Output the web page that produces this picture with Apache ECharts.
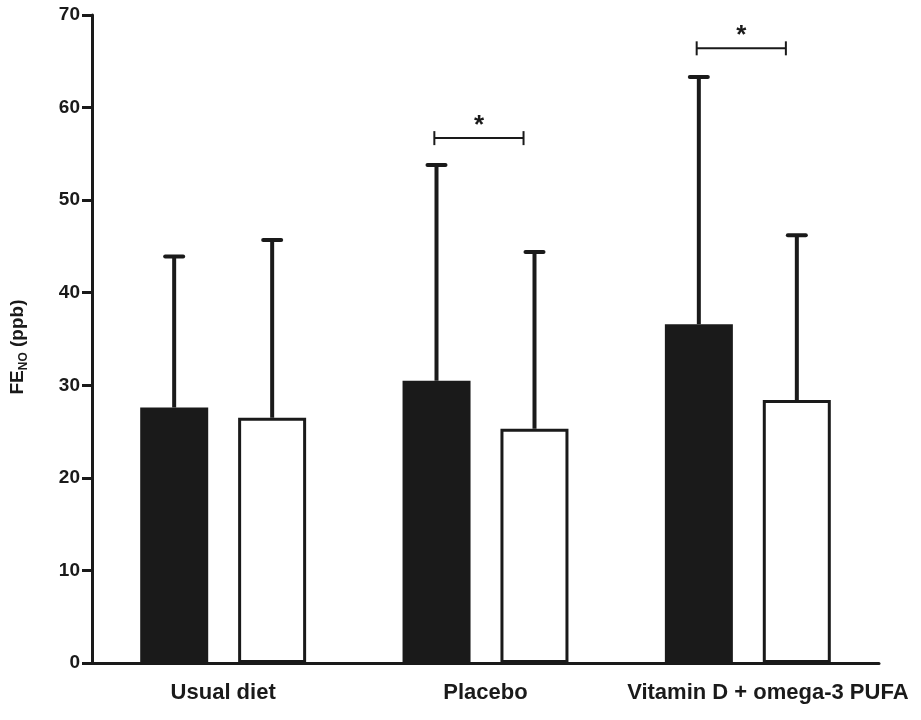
<!DOCTYPE html>
<html>
<head>
<meta charset="utf-8">
<script src="https://cdn.jsdelivr.net/npm/echarts@6/dist/echarts.min.js"></script>
<style>
  html, body { margin: 0; padding: 0; background: #fff; }
  #chart { width: 921px; height: 720px; }
</style>
</head>
<body>
<div id="chart"></div>
<script>
// data
const categories = ['Usual diet', 'Placebo', 'Vitamin D + omega-3 PUFA']
const beforeMean = [27.6, 30.5, 36.6]   // black bars
const beforeUpper = [43.9, 53.8, 63.3]
const afterMean = [26.5, 25.3, 28.4]    // white bars
const afterUpper = [45.7, 44.4, 46.2]
// significance brackets: [category index, level]
const sigBrackets = [[1, 56.7], [2, 66.4]]

const ink = '#1a1a1a'
const BAR_W = 68
const HALF_STEP = 49   // distance from category centre to bar centre

const chart = echarts.init(document.getElementById('chart'))

// error whisker from bar top up to upper value, with a cap
const whisker = (side) => (params, api) => {
  const top = api.coord([api.value(0), api.value(2)])
  const base = api.coord([api.value(0), api.value(1)])
  const x = top[0] + side * HALF_STEP
  return {
    type: 'group',
    children: [
      { type: 'line', shape: { x1: x, y1: base[1], x2: x, y2: top[1] },
        style: { stroke: ink, lineWidth: 4 } },
      { type: 'line', shape: { x1: x - 9, y1: top[1], x2: x + 9, y2: top[1] },
        style: { stroke: ink, lineWidth: 4, lineCap: 'round' } }
    ]
  }
}

const option = {
  animation: false,
  grid: { left: 92, right: 42, top: 15, bottom: 57 },
  xAxis: {
    type: 'category',
    data: categories.map((c, i) => i === 2
      ? { value: c, textStyle: { padding: [0, 0, 0, 40] } }
      : c),
    axisLine: { lineStyle: { color: ink, width: 3 } },
    axisTick: { show: false },
    axisLabel: {
      interval: 0,
      color: ink, fontFamily: 'Liberation Sans, Arial', fontWeight: 'bold',
      fontSize: 22, margin: 19
    }
  },
  yAxis: {
    type: 'value',
    min: 0, max: 70, interval: 10,
    splitLine: { show: false },
    axisLine: { show: true, lineStyle: { color: ink, width: 3 } },
    axisTick: { show: true, length: 10, lineStyle: { color: ink, width: 3 } },
    axisLabel: {
      color: ink, fontFamily: 'Liberation Sans, Arial', fontWeight: 'bold',
      fontSize: 19, margin: 12
    },
    name: '{b|FE}{s|NO}{b| (ppb)}',
    nameLocation: 'middle',
    nameGap: 62,
    nameTextStyle: {
      padding: [0, 0, 0, -16],
      rich: {
        b: { fontFamily: 'Liberation Sans, Arial', fontWeight: 'bold', fontSize: 19, color: ink, lineHeight: 24 },
        s: { fontFamily: 'Liberation Sans, Arial', fontWeight: 'bold', fontSize: 12, color: ink, lineHeight: 24, verticalAlign: 'bottom', padding: [7, 0, 0, 0] }
      }
    }
  },
  series: [
    {
      name: 'before',
      type: 'bar',
      barWidth: BAR_W,
      barGap: '44%',
      itemStyle: { color: ink },
      data: beforeMean
    },
    {
      name: 'after',
      type: 'bar',
      barWidth: BAR_W,
      itemStyle: { color: '#fff', borderColor: ink, borderWidth: 3 },
      data: afterMean
    },
    {
      type: 'custom',
      renderItem: whisker(-1),
      data: beforeMean.map((m, i) => [i, m, beforeUpper[i]]),
      z: 5
    },
    {
      type: 'custom',
      renderItem: whisker(1),
      data: afterMean.map((m, i) => [i, m, afterUpper[i]]),
      z: 5
    },
    {
      type: 'custom',
      renderItem: (params, api) => {
        const p = api.coord([api.value(0), api.value(1)])
        const band = api.size([1, 0])[0]
        const x1 = p[0] - 0.195 * band
        const x2 = p[0] + 0.145 * band
        const y = p[1]
        return {
          type: 'group',
          children: [
            { type: 'line', shape: { x1: x1, y1: y, x2: x2, y2: y }, style: { stroke: ink, lineWidth: 2 } },
            { type: 'line', shape: { x1: x1, y1: y - 7, x2: x1, y2: y + 7 }, style: { stroke: ink, lineWidth: 2 } },
            { type: 'line', shape: { x1: x2, y1: y - 7, x2: x2, y2: y + 7 }, style: { stroke: ink, lineWidth: 2 } },
            { type: 'text', style: {
                text: '*', x: (x1 + x2) / 2, y: y + 1,
                align: 'center', verticalAlign: 'bottom',
                font: 'bold 26px Liberation Sans, Arial', fill: ink
              } }
          ]
        }
      },
      data: sigBrackets,
      z: 5
    }
  ]
}

chart.setOption(option)
</script>
</body>
</html>
